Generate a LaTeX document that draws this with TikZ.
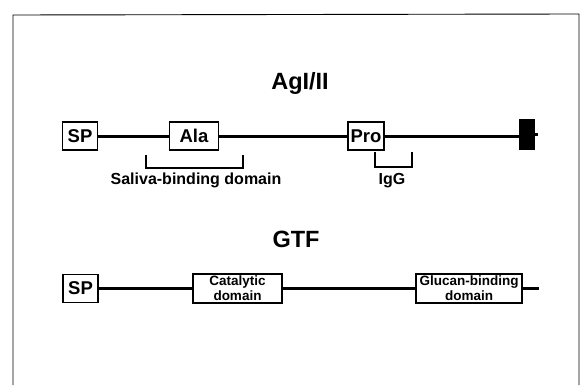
\documentclass[tikz,border=0pt]{standalone}
\usepackage{fontspec}
\setmainfont{Liberation Sans}
\begin{document}
\begin{tikzpicture}[x=1pt, y=-1pt,
  dom/.style={draw, line width=1.2pt, inner sep=0pt, minimum height=28pt, font=\bfseries\fontsize{18.5}{18.5}\selectfont},
  smalldom/.style={draw, line width=1.2pt, inner sep=0pt, minimum height=29pt, align=center, font=\bfseries\fontsize{13.5}{15}\selectfont},
  title/.style={anchor=base, font=\bfseries\fontsize{23.5}{23.5}\selectfont},
  lbl/.style={anchor=base, font=\bfseries\fontsize{16}{16}\selectfont},
  backbone/.style={line width=3pt},
  bracket/.style={line width=1.5pt}]
\useasboundingbox (0,0) rectangle (580,385);
% frame, open at the bottom
\draw[line width=0.9pt] (13,385) -- (13,15) -- (579,14) -- (579,385);

% AgI/II
\node[title] (t1) at (300,90) {AgI/II};
\node[dom, minimum width=35pt] (sp) at (80,136) {SP};
\node[dom, minimum width=49pt] (ala) at (194,136) {Ala};
\node[dom, minimum width=36pt] (pro) at (366,136) {Pro};
\node[draw, fill=black, inner sep=0pt, minimum width=15pt, minimum height=30pt] (blk) at (526.5,134) {};
\coordinate (e1) at (538,134);
\draw[backbone] (sp) -- (ala);
\draw[backbone] (ala) -- (pro);
\draw[backbone] (pro.east) -- (pro.east -| blk.west);
\draw[backbone] (blk) -- (e1);
\draw[bracket] (146,155) |- (243,168) -- (243,155);
\draw[bracket] (375,152) |- (412,167) -- (412,152);
\node[lbl] (sal) at (196,184.5) {Saliva-binding domain};
\node[lbl] (igg) at (392,184.5) {IgG};

% GTF
\node[title] (t2) at (296,247) {GTF};
\node[dom, minimum width=35pt] (sp2) at (80.5,288.5) {SP};
\node[smalldom, minimum width=89pt] (cat) at (237.5,288.5) {Catalytic\\domain};
\node[smalldom, minimum width=106pt] (glu) at (469,288.5) {Glucan-binding\\domain};
\coordinate (e2) at (539,288.5);
\draw[backbone] (sp2) -- (cat);
\draw[backbone] (cat) -- (glu);
\draw[backbone] (glu) -- (e2);
\end{tikzpicture}
\end{document}
